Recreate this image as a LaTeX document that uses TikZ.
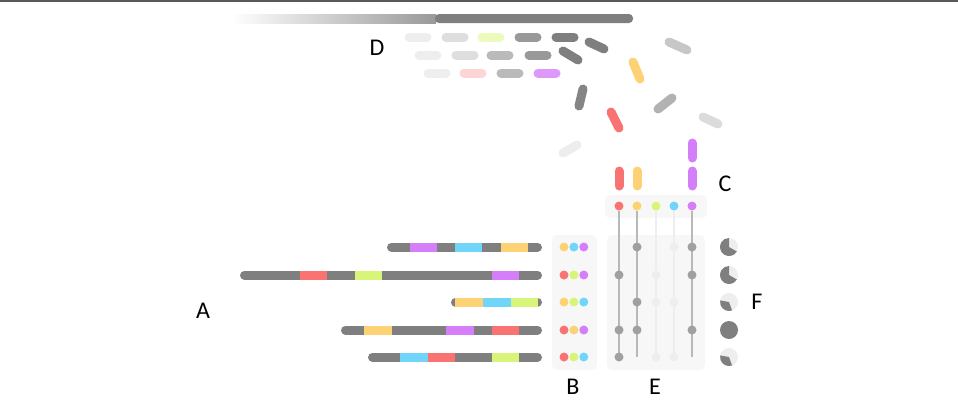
\documentclass[tikz,border=0pt]{standalone}
\usepackage{fontspec}
\setmainfont{Carlito}
\usetikzlibrary{positioning}

\definecolor{chrgray}{HTML}{7F7F7F}
\definecolor{cred}{HTML}{FA7373}
\definecolor{cyellow}{HTML}{FDD274}
\definecolor{clime}{HTML}{D8F57A}
\definecolor{cblue}{HTML}{6FD5FA}
\definecolor{cpurple}{HTML}{D47EF9}
\definecolor{hitgray}{HTML}{A0A0A0}
\definecolor{faint}{HTML}{EEEEEE}
\definecolor{panelgray}{HTML}{F7F7F7}

\begin{document}
\begin{tikzpicture}[
  x=1pt, y=-1pt,
  chrom/.style={line width=9pt, line cap=round, chrgray},
  seg/.style={line width=9pt},
  pill/.style={line width=9pt, line cap=round},
  dot/.style={circle, inner sep=0pt, minimum size=9pt},
  hit/.style={dot, fill=hitgray},
  miss/.style={dot, fill=faint},
  panel/.style={fill=panelgray, rounded corners=5pt},
  track/.style={line width=1.5pt, hitgray!75},
  ftrack/.style={line width=1.5pt, faint},
  lbl/.style={font=\fontsize{24}{24}\selectfont, inner sep=0pt}
]
\useasboundingbox (0,0) rectangle (958,402);

% Frame line and long read
\draw[line width=2pt, black!65] (0,1) -- (958,1);
\shade[left color=white, right color=chrgray!80] (232,14) rectangle (436,23);
\fill[chrgray, rounded corners=4pt] (435,14) rectangle (633,23);

% Reads (D)
\foreach \x/\c in {418/faint, 455/black!13, 491/clime!50, 528/black!40, 565/chrgray}
  \draw[pill, \c] (\x-9,37) -- (\x+9,37);
\foreach \x/\c in {428/faint, 465/black!13, 500/black!27, 538/black!40}
  \draw[pill, \c] (\x-9,55) -- (\x+9,55);
\foreach \x/\c in {437/faint, 473/cred!30, 510/black!27, 547/cpurple!80}
  \draw[pill, \c] (\x-9,73) -- (\x+9,73);

% Scattered reads
\draw[pill, chrgray] (589,42) -- (604,49);
\draw[pill, chrgray] (563,51) -- (578,60);
\draw[pill, black!22] (669,42) -- (687,50);
\draw[pill, cyellow] (633,62) -- (640,79);
\draw[pill, chrgray!95] (583,89) -- (579,106);
\draw[pill, cred] (611,112) -- (619,128);
\draw[pill, black!30] (658,109) -- (672,98);
\draw[pill, black!14] (703,117) -- (718,124);
\draw[pill, black!7] (563,153) -- (577,145);

% Reads on markers (C)
\draw[pill, cred] (619,171) -- (619,186);
\draw[pill, cyellow] (637,171) -- (637,186);
\draw[pill, cpurple] (692,143) -- (692,158);
\draw[pill, cpurple] (692,171) -- (692,186);

% Panels
\fill[panel] (605,195) rectangle (707,218);
\fill[panel] (552,235) rectangle (597,370);
\fill[panel] (607,235) rectangle (705,370);

% Markers
\node[dot, fill=cred] (c1) at (619,206) {};
\node[dot, fill=cyellow] (c2) at (637,206) {};
\node[dot, fill=clime] (c3) at (656,206) {};
\node[dot, fill=cblue] (c4) at (674,206) {};
\node[dot, fill=cpurple] (c5) at (692,206) {};

\coordinate (r1) at (0,247);
\coordinate (r2) at (0,275);
\coordinate (r3) at (0,302);
\coordinate (r4) at (0,330);
\coordinate (r5) at (0,357);

\foreach \c/\s in {1/track, 2/track, 3/ftrack, 4/ftrack, 5/track}
  \draw[\s] (c\c) -- (c\c |- r5);

% Presence matrix (E)
\foreach \c/\r/\s [count=\k] in {2/1/hit, 4/1/miss, 5/1/hit,
    1/2/hit, 3/2/miss, 5/2/hit,
    2/3/hit, 3/3/miss, 4/3/miss,
    1/4/hit, 2/4/hit, 5/4/hit,
    1/5/hit, 3/5/miss, 4/5/miss}
  \node[\s] (e\k) at (c\c |- r\r) {};

% Genomes (A)
\draw[chrom] (391.5,247) -- (537.5,247);
\foreach \a/\b/\c in {410/437/cpurple, 455/482/cblue, 501/528/cyellow}
  \draw[seg, \c] (\a,247) -- (\b,247);
\draw[chrom] (244.5,275) -- (537.5,275);
\foreach \a/\b/\c in {300/327/cred, 355/382/clime, 492/519/cpurple}
  \draw[seg, \c] (\a,275) -- (\b,275);
\draw[chrom] (455.5,302) -- (537.5,302);
\foreach \a/\b/\c in {455/483/cyellow, 483/511/cblue, 511/538/clime}
  \draw[seg, \c] (\a,302) -- (\b,302);
\draw[chrom] (345.5,330) -- (537.5,330);
\foreach \a/\b/\c in {364/392/cyellow, 446/474/cpurple, 492/519/cred}
  \draw[seg, \c] (\a,330) -- (\b,330);
\draw[chrom] (372.5,357) -- (537.5,357);
\foreach \a/\b/\c in {400/428/cblue, 428/455/cred, 492/519/clime}
  \draw[seg, \c] (\a,357) -- (\b,357);

% Marker sets (B)
\foreach \r/\p/\q/\s in {1/cyellow/cblue/cpurple, 2/cred/clime/cpurple,
    3/cyellow/clime/cblue, 4/cred/cyellow/cpurple, 5/cred/clime/cblue} {
  \node[dot, fill=\p] (b\r-1) at (564,0 |- r\r) {};
  \node[dot, fill=\q, right=0.5pt of b\r-1] (b\r-2) {};
  \node[dot, fill=\s, right=0.5pt of b\r-2] (b\r-3) {};
}

% Completeness (F)
\foreach \r/\a/\b in {1/30/270, 2/30/270, 3/70/190, 5/70/190} {
  \fill[faint] (729,0 |- r\r) circle[radius=9];
  \fill[chrgray] (729,0 |- r\r) -- ++(\a:9) arc[start angle=\a, end angle=\b, radius=9] -- cycle;
}
\fill[chrgray] (729,0 |- r4) circle[radius=9];

% Labels
\node[lbl] (labA) at (203,311) {A};
\node[lbl] (labB) at (573,387) {B};
\node[lbl] (labC) at (725,184) {C};
\node[lbl] (labD) at (377,48) {D};
\node[lbl] (labE) at (655,387) {E};
\node[lbl] (labF) at (757,302) {F};

\end{tikzpicture}
\end{document}
